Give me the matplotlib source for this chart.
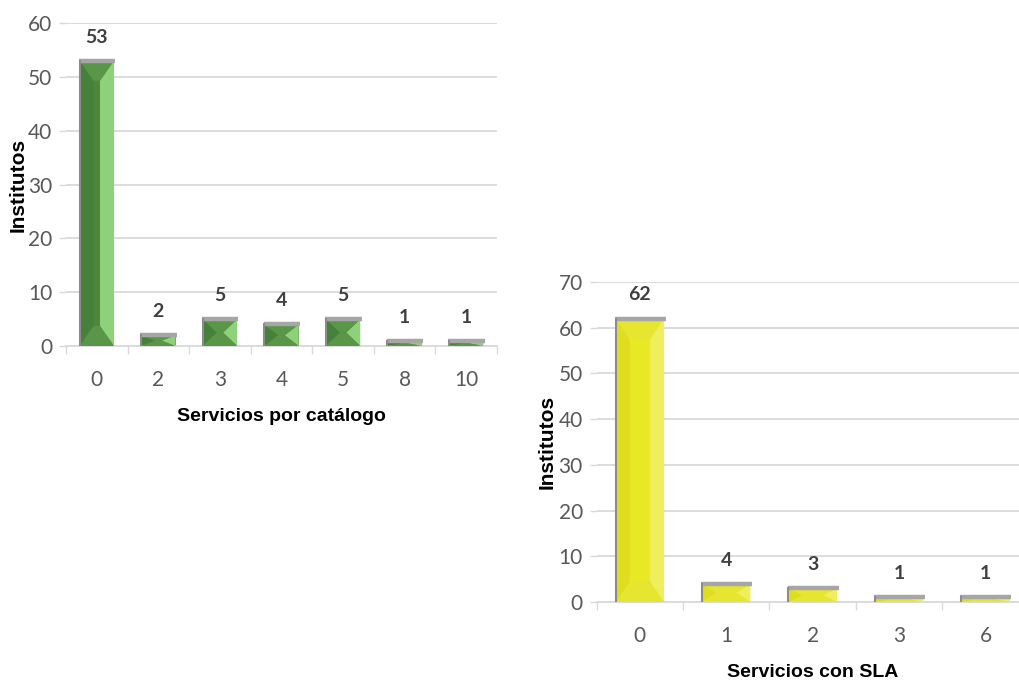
import matplotlib.pyplot as plt
import numpy as np
from matplotlib.patches import Polygon

plt.rcParams['font.family'] = ['Lato', 'DejaVu Sans']

# data
cat_catalogo = ['0', '2', '3', '4', '5', '8', '10']
val_catalogo = [53, 2, 5, 4, 5, 1, 1]
cat_sla = ['0', '1', '2', '3', '6']
val_sla = [62, 4, 3, 1, 1]

GRID = '#d9d9d9'
TICK = '#595959'


def bevel_bars(ax, cats, vals, face, light, dark, top, px_x, px_y):
    x = np.arange(len(cats))
    w = 0.56
    bars = ax.bar(x, vals, width=w, color=face, zorder=2)
    bx = 14 / px_x
    for b in bars:
        x0, x1 = b.get_x(), b.get_x() + b.get_width()
        h = b.get_height()
        by = min(20 / px_y, h / 2)
        bxx = min(bx, (x1 - x0) / 2)
        ax.add_patch(Polygon([(x1, 0), (x1, h), (x1 - bxx, h - by), (x1 - bxx, by)],
                             closed=True, color=light, lw=0, zorder=3))
        ax.add_patch(Polygon([(x0, 0), (x0, h), (x0 + bxx, h - by), (x0 + bxx, by)],
                             closed=True, color=dark, lw=0, zorder=3))
        ax.add_patch(Polygon([(x0, h), (x1, h), (x1 - bxx, h - by), (x0 + bxx, h - by)],
                             closed=True, color=top, lw=0, zorder=3))
        ax.add_patch(Polygon([(x0, 0), (x1, 0), (x1 - bxx, by), (x0 + bxx, by)],
                             closed=True, color=top, lw=0, zorder=3))
        # grey cap and left edge
        ax.plot([x0 - 0.01, x1 + 0.02], [h, h], color='#a6a6a6', lw=3.2,
                solid_capstyle='butt', zorder=4)
        ax.plot([x0, x0], [0, h], color='#8c8c8c', lw=1.5, zorder=4)
        ax.annotate(f'{int(h)}', (b.get_x() + b.get_width() / 2, h),
                    xytext=(0, 17), textcoords='offset points', ha='center',
                    va='center', fontsize=14, fontweight='bold', color='#404040')
    return x


def style(ax, cats, ymax, step, xlabel, label_x):
    n = len(cats)
    ax.set_xlim(-0.5, n - 0.5)
    ax.set_ylim(0, ymax)
    ax.set_yticks(np.arange(0, ymax + 1, step))
    ax.set_xticks(np.arange(n))
    ax.set_xticklabels(cats)
    ax.set_xticks(np.arange(-0.5, n, 1.0), minor=True)
    ax.tick_params(axis='x', which='major', length=0, pad=17, labelsize=15,
                   labelcolor=TICK)
    ax.tick_params(axis='x', which='minor', length=6, width=1, color=GRID,
                   direction='out')
    ax.tick_params(axis='y', length=5, width=1, color=GRID, pad=5,
                   labelsize=15, labelcolor=TICK)
    ax.grid(axis='y', color=GRID, lw=1.3, zorder=0)
    ax.set_axisbelow(True)
    for s in ['left', 'right', 'top']:
        ax.spines[s].set_visible(False)
    ax.spines['bottom'].set_color(GRID)
    ax.spines['bottom'].set_linewidth(1.3)
    ax.set_xlabel(xlabel, fontsize=14, fontweight='bold', labelpad=13,
                  family='Liberation Sans')
    ax.set_ylabel('Institutos', fontsize=15, fontweight='bold',
                  family='Liberation Sans')
    ax.yaxis.set_label_coords(label_x, 0.5)


fig = plt.figure(figsize=(10.2, 6.81), dpi=100)

ax1 = fig.add_axes([0.0647, 0.4919, 0.4225, 0.4743])
bevel_bars(ax1, cat_catalogo, val_catalogo, '#4d873a', '#8fd07a', '#47803a',
           '#5a9647', 61.4, 5.38)
style(ax1, cat_catalogo, 60, 10, 'Servicios por catálogo', -0.09)

ax2 = fig.add_axes([0.585, 0.116, 0.4235, 0.4699])
bevel_bars(ax2, cat_sla, val_sla, '#e9e824', '#efee5c', '#dedd1f',
           '#e6e530', 86.4, 4.57)
style(ax2, cat_sla, 70, 10, 'Servicios con SLA', -0.092)

fig.savefig('out.png', dpi=100)
